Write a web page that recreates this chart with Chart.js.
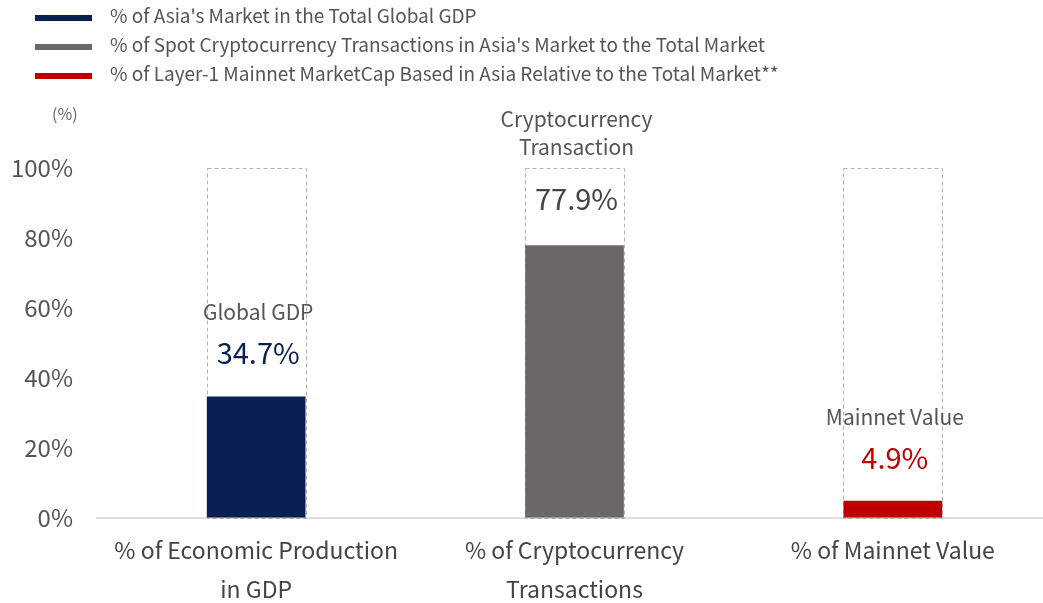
<!DOCTYPE html>
<html>
<head>
<meta charset="utf-8">
<script src="https://cdn.jsdelivr.net/npm/chart.js@4.4.1/dist/chart.umd.min.js"></script>
<style>
  body { margin: 0; background: #fff; font-family: "Noto Sans CJK KR", "Noto Sans", sans-serif; overflow: hidden; }
  #wrap { position: relative; width: 1043px; height: 603px; overflow: hidden; }
  #chart { position: absolute; left: 0; top: 0; }
  .legend { position: absolute; left: 35px; top: 0px; color: #555; font-size: 19px; }
  .legend div { height: 29px; line-height: 29px; white-space: nowrap; }
  .legend span { display: inline-block; width: 57px; height: 6px; margin-right: 18px; vertical-align: middle; }
  .unit { position: absolute; left: 52px; top: 101px; color: #666; font-size: 16px; }
</style>
</head>
<body>
<div id="wrap">
  <canvas id="chart" width="1056" height="614"></canvas>
  <div class="legend" id="legend"></div>
  <div class="unit">(%)</div>
</div>
<script>
const categories = [
  ["% of Economic Production", "in GDP"],
  ["% of Cryptocurrency", "Transactions"],
  ["% of Mainnet Value"]
];
const values = [34.7, 77.9, 4.9];
const totals = [100, 100, 100];
const noteLabels = [["Global GDP"], ["Cryptocurrency", "Transaction"], ["Mainnet Value"]];
const legendLabels = [
  "% of Asia's Market in the Total Global GDP",
  "% of Spot Cryptocurrency Transactions in Asia's Market to the Total Market",
  "% of Layer-1 Mainnet MarketCap Based in Asia Relative to the Total Market**"
];
const yTicks = [0, 20, 40, 60, 80, 100];

const barColors = ["#0b1f52", "#6b6766", "#c00000"];
const valueColors = ["#0b1f52", "#444444", "#c00000"];
const FONT = '"Noto Sans CJK KR", "Noto Sans", sans-serif';

// html legend
const legendEl = document.getElementById("legend");
legendLabels.forEach((text, i) => {
  const row = document.createElement("div");
  row.innerHTML = `<span style="background:${barColors[i]}"></span>${text}`;
  legendEl.appendChild(row);
});

// dashed 100% boxes + text notes above bars
const notesPlugin = {
  id: "notes",
  beforeDatasetsDraw(chart) {
    const ctx = chart.ctx;
    const meta = chart.getDatasetMeta(1);
    ctx.save();
    ctx.setLineDash([4, 3]);
    ctx.strokeStyle = "#b0b0b0";
    ctx.lineWidth = 1;
    meta.data.forEach((bar) => {
      const w = bar.width;
      ctx.strokeRect(Math.round(bar.x - w / 2) + 0.5, Math.round(bar.y) + 0.5, Math.round(w), Math.round(bar.base - bar.y));
    });
    ctx.restore();
  },
  afterDatasetsDraw(chart) {
    const ctx = chart.ctx;
    const y = chart.scales.y;
    const meta = chart.getDatasetMeta(0);
    ctx.save();
    ctx.textAlign = "center";
    ctx.textBaseline = "middle";
    meta.data.forEach((bar, i) => {
      const top = y.getPixelForValue(values[i]);
      const x = bar.x + 2;
      let valueY = top - 43;
      let noteY = top - 84;
      if (top - 130 < y.getPixelForValue(100)) {
        // not enough room: put the name above the dashed box
        valueY = top - 46;
        noteY = y.getPixelForValue(100) - 21;
      }
      ctx.fillStyle = valueColors[i];
      ctx.font = `29px ${FONT}`;
      ctx.fillText(values[i].toFixed(1) + "%", x, valueY);
      ctx.fillStyle = "#555555";
      ctx.font = `21px ${FONT}`;
      const lines = noteLabels[i];
      lines.forEach((line, k) => {
        ctx.fillText(line, x, noteY - (lines.length - 1 - k) * 28);
      });
    });
    ctx.restore();
  }
};

new Chart(document.getElementById("chart"), {
  type: "bar",
  data: {
    labels: categories,
    datasets: [
      {
        label: "Asia share",
        data: values,
        backgroundColor: barColors,
        grouped: false,
        order: 0
      },
      {
        label: "Total",
        data: totals,
        backgroundColor: "rgba(0,0,0,0)",
        grouped: false,
        order: 1
      }
    ]
  },
  options: {
    responsive: false,
    animation: false,
    layout: { autoPadding: false, padding: { top: 168, left: 10, right: 4, bottom: 0 } },
    categoryPercentage: 1,
    barPercentage: 0.31,
    plugins: {
      legend: { display: false },
      tooltip: { enabled: false }
    },
    scales: {
      x: {
        grid: { display: false },
        border: { color: "#dddddd", width: 2 },
        afterFit: (scale) => { scale.paddingLeft = 0; scale.paddingRight = 0; },
        ticks: {
          color: "#444",
          font: { family: FONT, size: 23, lineHeight: 1.7 },
          padding: 5,
          maxRotation: 0
        }
      },
      y: {
        min: 0,
        max: 100,
        afterBuildTicks: (axis) => { axis.ticks = yTicks.map((v) => ({ value: v })); },
        afterFit: (scale) => { scale.width = 87; },
        grid: { display: false, drawTicks: false },
        border: { display: false },
        ticks: {
          color: "#555",
          font: { family: FONT, size: 24 },
          padding: 24,
          callback: (v) => v + "%"
        }
      }
    }
  },
  plugins: [notesPlugin]
});
</script>
</body>
</html>
